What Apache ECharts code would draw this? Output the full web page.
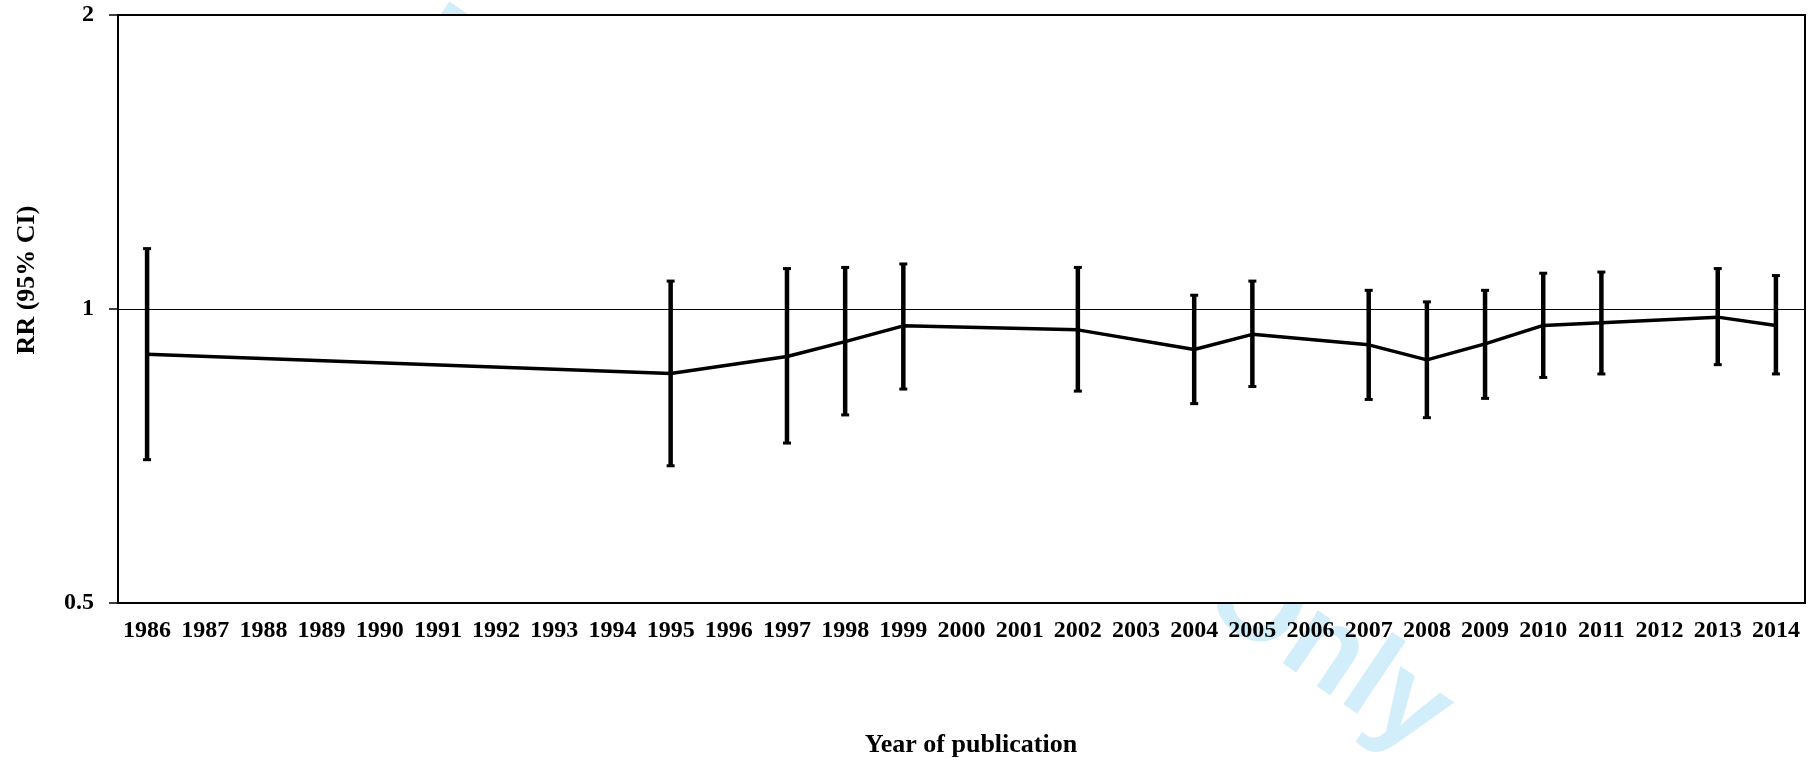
<!DOCTYPE html>
<html>
<head>
<meta charset="utf-8">
<script src="https://cdn.jsdelivr.net/npm/echarts@6/dist/echarts.min.js"></script>
<style>
  html, body { margin: 0; padding: 0; background: #fff; }
  #chart { width: 1815px; height: 763px; }
</style>
</head>
<body>
<div id="chart"></div>
<script>
// Publication years on the x axis
const years = ['1986','1987','1988','1989','1990','1991','1992','1993','1994','1995','1996','1997','1998','1999','2000',
               '2001','2002','2003','2004','2005','2006','2007','2008','2009','2010','2011','2012','2013','2014'];

// Pooled relative risk per year (null = no study that year)
const rr    = [0.899, null, null, null, null, null, null, null, null, 0.859, null, 0.894, 0.926, 0.961, null,
               null, 0.952, null, 0.909, 0.942, null, 0.919, 0.887, 0.921, 0.962, 0.968, null, 0.981, 0.962];
// Lower and upper bounds of the 95% confidence interval
const lower = [0.701, null, null, null, null, null, null, null, null, 0.691, null, 0.729, 0.779, 0.828, null,
               null, 0.824, null, 0.800, 0.833, null, 0.808, 0.774, 0.810, 0.851, 0.858, null, 0.877, 0.858];
const upper = [1.153, null, null, null, null, null, null, null, null, 1.068, null, 1.100, 1.103, 1.112, null,
               null, 1.103, null, 1.033, 1.068, null, 1.045, 1.017, 1.045, 1.088, 1.091, null, 1.100, 1.082];

// Y axis tick values (log base 2)
const yTicks = [0.5, 1, 2];

const ciData = [];
years.forEach(function (y, i) {
  if (lower[i] != null && upper[i] != null) ciData.push([i, lower[i], upper[i]]);
});

const serif = '"Liberation Serif", "Times New Roman", serif';
const chart = echarts.init(document.getElementById('chart'), null, { renderer: 'canvas' });

// Vertical CI whisker with short caps at both ends
function renderErrorBar(params, api) {
  const idx = api.value(0);
  const lo = api.coord([idx, api.value(1)]);
  const hi = api.coord([idx, api.value(2)]);
  const cap = 4;
  const capStyle = { stroke: '#000', lineWidth: 3 };
  return {
    type: 'group',
    children: [
      { type: 'line', shape: { x1: lo[0], y1: lo[1], x2: hi[0], y2: hi[1] }, style: { stroke: '#000', lineWidth: 4.5 } },
      { type: 'line', shape: { x1: hi[0] - cap, y1: hi[1], x2: hi[0] + cap, y2: hi[1] }, style: capStyle },
      { type: 'line', shape: { x1: lo[0] - cap, y1: lo[1], x2: lo[0] + cap, y2: lo[1] }, style: capStyle }
    ]
  };
}

chart.setOption({
  backgroundColor: '#fff',
  animation: false,
  graphic: [
    {
      // diagonal stamp, mostly hidden behind the white plot area
      type: 'text',
      z: -10,
      x: 415, y: 38,
      rotation: -34 * Math.PI / 180,
      style: {
        text: 'For Peer Review Only',
        font: 'bold 120px "Liberation Sans", Arial, sans-serif',
        fill: '#d3eefb',
        textAlign: 'left',
        textVerticalAlign: 'middle'
      }
    },
    {
      type: 'text',
      x: 27, y: 280,
      rotation: Math.PI / 2,
      style: {
        text: 'RR (95% CI)',
        font: 'bold 26px ' + serif,
        fill: '#000',
        textAlign: 'center',
        textVerticalAlign: 'middle'
      }
    },
    {
      type: 'text',
      x: 971, y: 745,
      style: {
        text: 'Year of publication',
        font: 'bold 26px ' + serif,
        fill: '#000',
        textAlign: 'center',
        textVerticalAlign: 'middle'
      }
    }
  ],
  grid: {
    left: 118, right: 10, top: 15, bottom: 160,
    show: true,
    backgroundColor: '#fff',
    borderColor: '#000',
    borderWidth: 2
  },
  xAxis: {
    type: 'category',
    data: years,
    boundaryGap: true,
    axisLine: { lineStyle: { color: '#000', width: 2 } },
    axisTick: { show: false },
    axisLabel: {
      interval: 0,
      margin: 16,
      color: '#000',
      fontFamily: serif,
      fontWeight: 'bold',
      fontSize: 24
    },
    splitLine: { show: false }
  },
  yAxis: {
    type: 'log',
    logBase: 2,
    min: yTicks[0],
    max: yTicks[yTicks.length - 1],
    axisLine: { show: true, lineStyle: { color: '#000', width: 2 } },
    axisTick: { show: true, inside: false, length: 9, lineStyle: { color: '#000', width: 1.5 } },
    axisLabel: {
      margin: 24,
      color: '#000',
      fontFamily: serif,
      fontWeight: 'bold',
      fontSize: 24,
      formatter: function (v) { return String(+v.toFixed(2)); }
    },
    splitLine: { show: true, lineStyle: { color: '#000', width: 1.2 } },
    minorTick: { show: false }
  },
  series: [
    {
      type: 'line',
      data: rr,
      connectNulls: true,
      showSymbol: false,
      symbol: 'none',
      lineStyle: { color: '#000', width: 3.5 },
      z: 3
    },
    {
      type: 'custom',
      data: ciData,
      renderItem: renderErrorBar,
      encode: { x: 0, y: [1, 2] },
      z: 4
    }
  ]
});
</script>
</body>
</html>
